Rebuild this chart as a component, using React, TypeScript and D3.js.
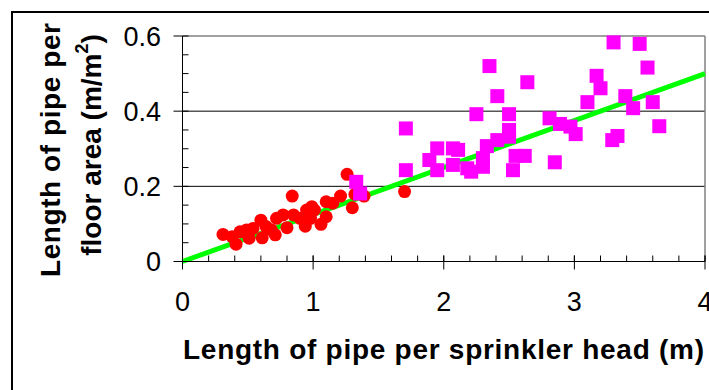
import React from "react";
import * as d3 from "d3";

// Series 1 (red circles)
const redX = [0.31, 0.38, 0.41, 0.44, 0.49, 0.51, 0.54, 0.60, 0.61, 0.64, 0.68, 0.71, 0.72, 0.77, 0.80, 0.84, 0.85, 0.90, 0.94, 0.95, 0.98, 0.99, 1.01, 1.06, 1.10, 1.10, 1.15, 1.21, 1.26, 1.30, 1.32, 1.39, 1.70];
const redY = [0.072, 0.066, 0.046, 0.079, 0.084, 0.062, 0.088, 0.110, 0.063, 0.093, 0.084, 0.071, 0.115, 0.124, 0.090, 0.174, 0.124, 0.115, 0.094, 0.137, 0.115, 0.146, 0.137, 0.099, 0.119, 0.159, 0.155, 0.174, 0.232, 0.143, 0.179, 0.174, 0.186];

// Series 2 (magenta squares)
const magX = [1.33, 1.36, 1.71, 1.71, 1.89, 1.95, 1.95, 2.07, 2.11, 2.07, 2.18, 2.21, 2.25, 2.30, 2.30, 2.33, 2.35, 2.41, 2.41, 2.50, 2.50, 2.50, 2.53, 2.55, 2.62, 2.64, 2.81, 2.85, 2.89, 2.97, 3.01, 3.10, 3.17, 3.20, 3.30, 3.29, 3.33, 3.39, 3.45, 3.50, 3.56, 3.60, 3.65];
const magY = [0.212, 0.181, 0.354, 0.243, 0.270, 0.301, 0.243, 0.301, 0.297, 0.257, 0.248, 0.239, 0.392, 0.275, 0.252, 0.307, 0.520, 0.440, 0.323, 0.392, 0.350, 0.332, 0.243, 0.281, 0.281, 0.477, 0.381, 0.264, 0.366, 0.359, 0.339, 0.424, 0.494, 0.461, 0.583, 0.323, 0.334, 0.440, 0.408, 0.579, 0.516, 0.424, 0.360];

// Trend line
const trendX = [0, 4];
const trendY = [0, 0.5];

const xTicks = [0, 1, 2, 3, 4];
const yTicks = [0, 0.2, 0.4, 0.6];
const yTickLabels = ["0", "0.2", "0.4", "0.6"];
const xMinor = d3.range(0, 4.0001, 0.2);
const yMinor = d3.range(0, 0.6001, 0.05);

const FONT = "'Liberation Sans', Arial, sans-serif";

export default function App() {
  const left = 182.5, right = 705, top = 36, bottom = 261.5;
  const x = d3.scaleLinear().domain([0, 4]).range([left, right]);
  const y = d3.scaleLinear().domain([0, 0.6]).range([bottom, top]);
  const line = d3.line<number>().x((d) => x(trendX[d])).y((d) => y(trendY[d]));

  return (
    <svg width={709} height={390} style={{ position: "absolute", left: 0, top: 0, background: "#fff" }}>
      <rect x={0} y={0} width={709} height={390} fill="#fff" />
      {/* outer border */}
      <rect x={12} y={12} width={740} height={420} fill="none" stroke="#000" strokeWidth={2} />

      {/* gridlines */}
      {yTicks.filter((t) => t > 0 && t < 0.6).map((t) => (
        <line key={"g" + t} x1={left} x2={right} y1={y(t)} y2={y(t)} stroke="#000" strokeWidth={1} />
      ))}
      {/* plot area border (top/right) */}
      <line x1={left} x2={right} y1={top} y2={top} stroke="#808080" strokeWidth={1.5} />
      <line x1={right} x2={right} y1={top} y2={bottom} stroke="#808080" strokeWidth={1.5} />

      {/* trend line */}
      <path d={line([0, 1]) || ""} stroke="#00ff00" strokeWidth={5} fill="none" />

      {/* red circles */}
      {redX.map((v, i) => (
        <circle key={"r" + i} cx={x(v)} cy={y(redY[i])} r={6.5} fill="#ff0000" />
      ))}
      {/* magenta squares */}
      {magX.map((v, i) => (
        <rect key={"m" + i} x={x(v) - 7} y={y(magY[i]) - 7} width={14} height={14} fill="#ff00ff" />
      ))}

      {/* axes */}
      <line x1={left} x2={left} y1={top} y2={bottom} stroke="#000" strokeWidth={1} />
      <line x1={left} x2={right} y1={bottom} y2={bottom} stroke="#000" strokeWidth={1} />
      {yMinor.map((t, i) => (
        <line key={"ym" + i} x1={left} x2={left + 6} y1={y(t)} y2={y(t)} stroke="#000" strokeWidth={1} />
      ))}
      {yTicks.map((t) => (
        <line key={"yM" + t} x1={left - 9} x2={left} y1={y(t)} y2={y(t)} stroke="#000" strokeWidth={1} />
      ))}
      {xMinor.map((t, i) => (
        <line key={"xm" + i} x1={x(t)} x2={x(t)} y1={bottom - 6} y2={bottom} stroke="#000" strokeWidth={1} />
      ))}
      {xTicks.map((t) => (
        <line key={"xM" + t} x1={x(t)} x2={x(t)} y1={bottom - 6} y2={bottom + 8} stroke="#000" strokeWidth={1} />
      ))}

      {/* tick labels */}
      {yTicks.map((t, i) => (
        <text key={"yl" + t} x={161} y={y(t)} dy="0.36em" textAnchor="end" fontFamily={FONT} fontSize={27} fill="#000">
          {yTickLabels[i]}
        </text>
      ))}
      {xTicks.map((t) => (
        <text key={"xl" + t} x={x(t)} y={311} textAnchor="middle" fontFamily={FONT} fontSize={27} fill="#000">
          {t}
        </text>
      ))}

      {/* x title */}
      <text x={443.5} y={359} textAnchor="middle" fontFamily={FONT} fontSize={28} fontWeight="bold" textLength={521} lengthAdjust="spacing">
        Length of pipe per sprinkler head (m)
      </text>

      {/* y title */}
      <text transform="translate(60,150) rotate(-90)" textAnchor="middle" fontFamily={FONT} fontSize={28} fontWeight="bold" textLength={254} lengthAdjust="spacing">
        Length of pipe per
      </text>
      <text transform="translate(101,145) rotate(-90)" textAnchor="middle" fontFamily={FONT} fontSize={28} fontWeight="bold">
        floor area (m/m<tspan fontSize={18} dy={-13}>2</tspan><tspan dy={13}>)</tspan>
      </text>
    </svg>
  );
}
